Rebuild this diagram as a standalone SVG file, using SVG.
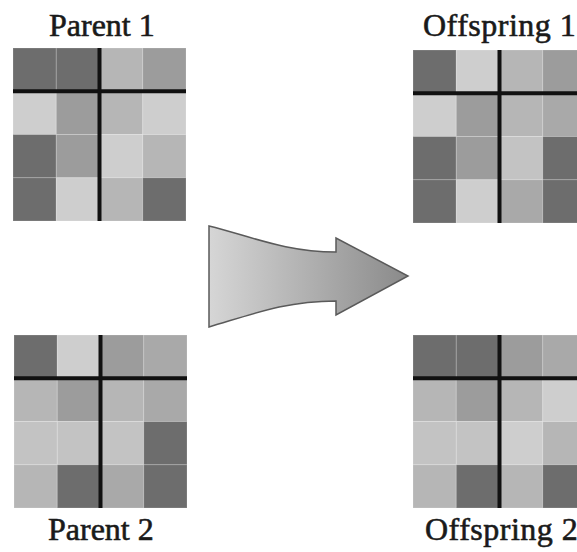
<svg xmlns="http://www.w3.org/2000/svg" xmlns:xlink="http://www.w3.org/1999/xlink" width="577" height="552" viewBox="0 0 577 552">
  <style>
    .lbl { font-family: "Liberation Serif", "Times New Roman", serif; font-size: 32px; fill: #1a1a1a; stroke: #1a1a1a; stroke-width: 0.6; }
    .wide { letter-spacing: 0.5px; }
    .cell { stroke: #ffffff; stroke-opacity: 0.18; stroke-width: 1; }
    .k1 { fill: #6d6d6d; }
    .k2 { fill: #9c9c9c; }
    .k3 { fill: #a9a9a9; }
    .k4 { fill: #b6b6b6; }
    .k5 { fill: #c3c3c3; }
    .k6 { fill: #cecece; }
    .cut { stroke: #111111; stroke-width: 4; fill: none; }
    .arrow { fill: url(#arrowFill); stroke: #5a5a5a; stroke-width: 1.5; stroke-linejoin: miter; }
  </style>
  <defs>
    <linearGradient id="arrowFill" x1="0" y1="0" x2="1" y2="0">
      <stop offset="0" stop-color="#d6d6d6"/>
      <stop offset="1" stop-color="#8a8a8a"/>
    </linearGradient>
    <!-- crossover cut lines: after row 1 and after column 2 -->
    <g id="cross">
      <line class="cut" x1="0" y1="43.25" x2="173" y2="43.25"/>
      <line class="cut" x1="86.5" y1="0" x2="86.5" y2="173"/>
    </g>
  </defs>

  <rect width="577" height="552" fill="#ffffff"/>

  <!-- Parent 1 -->
  <g id="parent1">
    <text class="lbl" x="49" y="36">Parent 1</text>
    <g transform="translate(13,48)">
      <rect class="cell k1" x="0" y="0" width="43.25" height="43.25"/>
      <rect class="cell k1" x="43.25" y="0" width="43.25" height="43.25"/>
      <rect class="cell k4" x="86.5" y="0" width="43.25" height="43.25"/>
      <rect class="cell k2" x="129.75" y="0" width="43.25" height="43.25"/>
      <rect class="cell k6" x="0" y="43.25" width="43.25" height="43.25"/>
      <rect class="cell k2" x="43.25" y="43.25" width="43.25" height="43.25"/>
      <rect class="cell k4" x="86.5" y="43.25" width="43.25" height="43.25"/>
      <rect class="cell k6" x="129.75" y="43.25" width="43.25" height="43.25"/>
      <rect class="cell k1" x="0" y="86.5" width="43.25" height="43.25"/>
      <rect class="cell k2" x="43.25" y="86.5" width="43.25" height="43.25"/>
      <rect class="cell k6" x="86.5" y="86.5" width="43.25" height="43.25"/>
      <rect class="cell k4" x="129.75" y="86.5" width="43.25" height="43.25"/>
      <rect class="cell k1" x="0" y="129.75" width="43.25" height="43.25"/>
      <rect class="cell k6" x="43.25" y="129.75" width="43.25" height="43.25"/>
      <rect class="cell k4" x="86.5" y="129.75" width="43.25" height="43.25"/>
      <rect class="cell k1" x="129.75" y="129.75" width="43.25" height="43.25"/>
      <use xlink:href="#cross"/>
    </g>
  </g>

  <!-- Parent 2 -->
  <g id="parent2">
    <text class="lbl" x="48" y="540">Parent 2</text>
    <g transform="translate(14,335)">
      <rect class="cell k1" x="0" y="0" width="43.25" height="43.25"/>
      <rect class="cell k6" x="43.25" y="0" width="43.25" height="43.25"/>
      <rect class="cell k2" x="86.5" y="0" width="43.25" height="43.25"/>
      <rect class="cell k3" x="129.75" y="0" width="43.25" height="43.25"/>
      <rect class="cell k4" x="0" y="43.25" width="43.25" height="43.25"/>
      <rect class="cell k2" x="43.25" y="43.25" width="43.25" height="43.25"/>
      <rect class="cell k4" x="86.5" y="43.25" width="43.25" height="43.25"/>
      <rect class="cell k3" x="129.75" y="43.25" width="43.25" height="43.25"/>
      <rect class="cell k5" x="0" y="86.5" width="43.25" height="43.25"/>
      <rect class="cell k5" x="43.25" y="86.5" width="43.25" height="43.25"/>
      <rect class="cell k5" x="86.5" y="86.5" width="43.25" height="43.25"/>
      <rect class="cell k1" x="129.75" y="86.5" width="43.25" height="43.25"/>
      <rect class="cell k4" x="0" y="129.75" width="43.25" height="43.25"/>
      <rect class="cell k1" x="43.25" y="129.75" width="43.25" height="43.25"/>
      <rect class="cell k3" x="86.5" y="129.75" width="43.25" height="43.25"/>
      <rect class="cell k1" x="129.75" y="129.75" width="43.25" height="43.25"/>
      <use xlink:href="#cross"/>
    </g>
  </g>

  <!-- Offspring 1 -->
  <g id="offspring1">
    <text class="lbl wide" x="423" y="36">Offspring 1</text>
    <g transform="translate(413,50)">
      <rect class="cell k1" x="0" y="0" width="43.25" height="43.25"/>
      <rect class="cell k6" x="43.25" y="0" width="43.25" height="43.25"/>
      <rect class="cell k4" x="86.5" y="0" width="43.25" height="43.25"/>
      <rect class="cell k2" x="129.75" y="0" width="43.25" height="43.25"/>
      <rect class="cell k6" x="0" y="43.25" width="43.25" height="43.25"/>
      <rect class="cell k2" x="43.25" y="43.25" width="43.25" height="43.25"/>
      <rect class="cell k4" x="86.5" y="43.25" width="43.25" height="43.25"/>
      <rect class="cell k3" x="129.75" y="43.25" width="43.25" height="43.25"/>
      <rect class="cell k1" x="0" y="86.5" width="43.25" height="43.25"/>
      <rect class="cell k2" x="43.25" y="86.5" width="43.25" height="43.25"/>
      <rect class="cell k5" x="86.5" y="86.5" width="43.25" height="43.25"/>
      <rect class="cell k1" x="129.75" y="86.5" width="43.25" height="43.25"/>
      <rect class="cell k1" x="0" y="129.75" width="43.25" height="43.25"/>
      <rect class="cell k6" x="43.25" y="129.75" width="43.25" height="43.25"/>
      <rect class="cell k3" x="86.5" y="129.75" width="43.25" height="43.25"/>
      <rect class="cell k1" x="129.75" y="129.75" width="43.25" height="43.25"/>
      <use xlink:href="#cross"/>
    </g>
  </g>

  <!-- Offspring 2 -->
  <g id="offspring2">
    <text class="lbl wide" x="425" y="540">Offspring 2</text>
    <g transform="translate(413,335)">
      <rect class="cell k1" x="0" y="0" width="43.25" height="43.25"/>
      <rect class="cell k1" x="43.25" y="0" width="43.25" height="43.25"/>
      <rect class="cell k2" x="86.5" y="0" width="43.25" height="43.25"/>
      <rect class="cell k3" x="129.75" y="0" width="43.25" height="43.25"/>
      <rect class="cell k4" x="0" y="43.25" width="43.25" height="43.25"/>
      <rect class="cell k2" x="43.25" y="43.25" width="43.25" height="43.25"/>
      <rect class="cell k4" x="86.5" y="43.25" width="43.25" height="43.25"/>
      <rect class="cell k6" x="129.75" y="43.25" width="43.25" height="43.25"/>
      <rect class="cell k5" x="0" y="86.5" width="43.25" height="43.25"/>
      <rect class="cell k5" x="43.25" y="86.5" width="43.25" height="43.25"/>
      <rect class="cell k6" x="86.5" y="86.5" width="43.25" height="43.25"/>
      <rect class="cell k4" x="129.75" y="86.5" width="43.25" height="43.25"/>
      <rect class="cell k4" x="0" y="129.75" width="43.25" height="43.25"/>
      <rect class="cell k1" x="43.25" y="129.75" width="43.25" height="43.25"/>
      <rect class="cell k4" x="86.5" y="129.75" width="43.25" height="43.25"/>
      <rect class="cell k1" x="129.75" y="129.75" width="43.25" height="43.25"/>
      <use xlink:href="#cross"/>
    </g>
  </g>

  <!-- connectors -->
  <g id="connectors">
    <path class="arrow" d="M209,226 C250,236 285,252 336,252 L336,238 L408,276 L336,315 L336,301 C285,301 250,315 209,327 Z"/>
  </g>
</svg>
